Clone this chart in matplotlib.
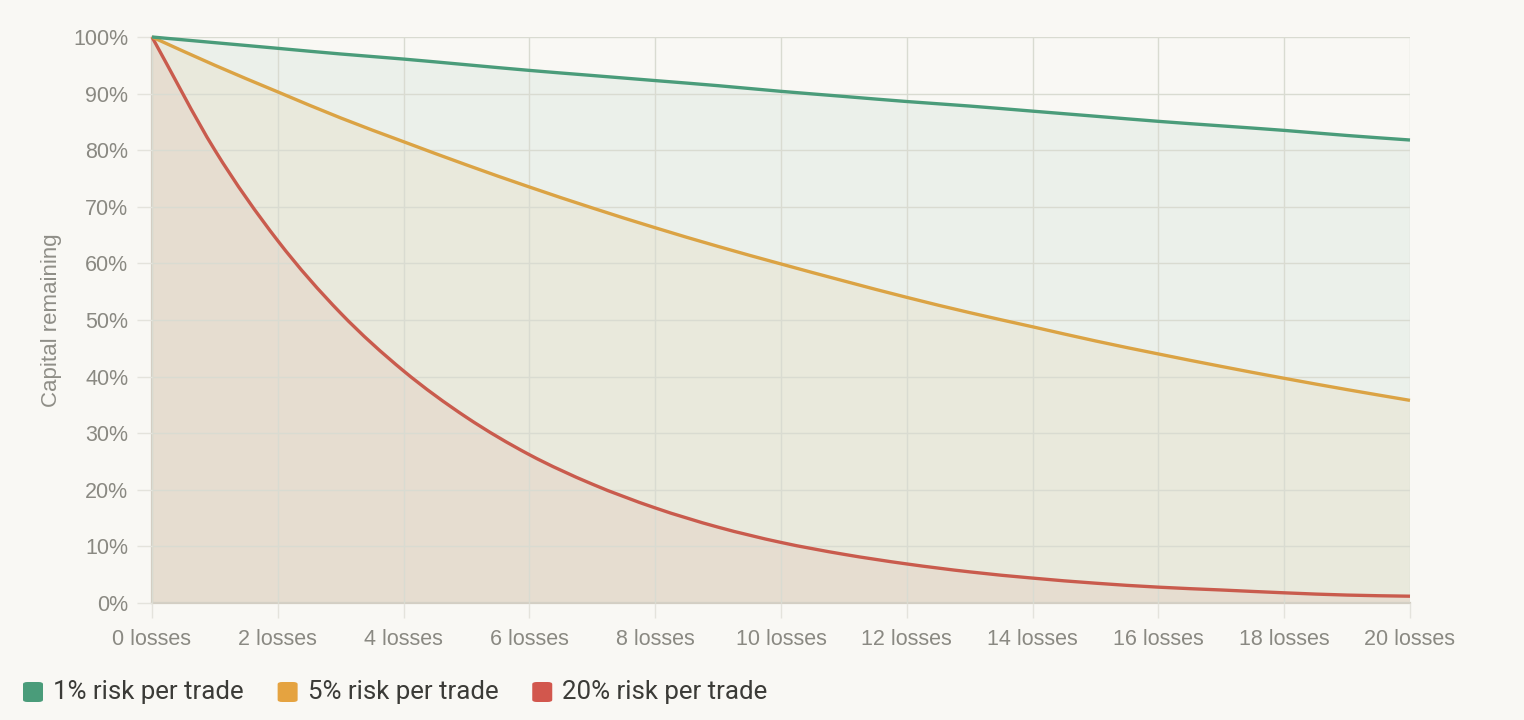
import matplotlib
matplotlib.use("Agg")
import matplotlib.pyplot as plt
from matplotlib.patches import FancyBboxPatch, PathPatch
from matplotlib.path import Path
from matplotlib.ticker import FuncFormatter

# capital remaining (%) after n consecutive losses
losses = list(range(0, 21))
risk_1 = [100, 99, 98, 97, 96.1, 95.1, 94.1, 93.2, 92.3, 91.4, 90.4,
          89.5, 88.6, 87.8, 86.9, 86.0, 85.1, 84.3, 83.5, 82.6, 81.8]
risk_5 = [100, 95, 90.3, 85.7, 81.5, 77.4, 73.5, 69.8, 66.3, 63.0, 59.9,
          56.9, 54.0, 51.3, 48.8, 46.3, 44.0, 41.8, 39.7, 37.7, 35.8]
risk_20 = [100, 80, 64, 51.2, 41.0, 32.8, 26.2, 21.0, 16.8, 13.4, 10.7,
           8.6, 6.9, 5.5, 4.4, 3.5, 2.8, 2.3, 1.8, 1.4, 1.2]
series_names = ["1% risk per trade", "5% risk per trade", "20% risk per trade"]
line_colors = ["#4a9c7a", "#dba344", "#c95b4d"]
key_colors = ["#4a9c7a", "#e5a340", "#d2574d"]

bg = "#f9f8f4"
tick_col = "#8a8982"


def smooth_path(xs, ys):
    # monotone cubic (Fritsch-Carlson) drawn as bezier segments
    n = len(xs)
    d = [(ys[i + 1] - ys[i]) / (xs[i + 1] - xs[i]) for i in range(n - 1)]
    m = [d[0]] + [0.0] * (n - 2) + [d[-1]]
    for i in range(1, n - 1):
        if d[i - 1] * d[i] <= 0:
            m[i] = 0.0
        else:
            m[i] = (d[i - 1] + d[i]) / 2
    verts = [(xs[0], ys[0])]
    codes = [Path.MOVETO]
    for i in range(n - 1):
        h = xs[i + 1] - xs[i]
        verts += [(xs[i] + h / 3, ys[i] + m[i] * h / 3),
                  (xs[i + 1] - h / 3, ys[i + 1] - m[i + 1] * h / 3),
                  (xs[i + 1], ys[i + 1])]
        codes += [Path.CURVE4] * 3
    return verts, codes


fig = plt.figure(figsize=(15.24, 7.2), dpi=100, facecolor=bg)
ax = fig.add_axes([152 / 1524, 1 - 603 / 720, (1410 - 152) / 1524, (603 - 37) / 720])
ax.set_facecolor(bg)

all_series = [risk_1, risk_5, risk_20]
for vals, c in zip(all_series, line_colors):
    verts, codes = smooth_path(losses, vals)
    verts = verts + [(losses[-1], 0), (losses[0], 0), verts[0]]
    codes = codes + [Path.LINETO, Path.LINETO, Path.CLOSEPOLY]
    ax.add_patch(PathPatch(Path(verts, codes), facecolor=c, alpha=0.08,
                           edgecolor="none", zorder=1))
for vals, c in reversed(list(zip(all_series, line_colors))):
    verts, codes = smooth_path(losses, vals)
    ax.add_patch(PathPatch(Path(verts, codes), facecolor="none", edgecolor=c,
                           lw=2.4, zorder=3, clip_on=False, capstyle="butt"))

ax.set_xlim(0, 20)
ax.set_ylim(0, 100)
ax.set_xticks(range(0, 21, 2))
ax.set_yticks(range(0, 101, 10))
ax.xaxis.set_major_formatter(FuncFormatter(lambda v, p: f"{int(v)} losses"))
ax.yaxis.set_major_formatter(FuncFormatter(lambda v, p: f"{int(v)}%"))
ax.grid(True, color="#d9dbd1", lw=1, zorder=2)
ax.set_axisbelow(False)

for s in ["top", "right"]:
    ax.spines[s].set_visible(False)
for s in ["left", "bottom"]:
    ax.spines[s].set_color("#d3cec3")
    ax.spines[s].set_linewidth(1.6)
    ax.spines[s].set_zorder(2.5)

ax.tick_params(axis="both", length=11, width=1, color="#e4e3dc",
               labelcolor=tick_col, labelsize=15.5)
ax.tick_params(axis="x", pad=8)
ax.tick_params(axis="y", pad=6)
for lab in ax.get_xticklabels() + ax.get_yticklabels():
    lab.set_fontfamily("Liberation Sans")

ax.set_ylabel("Capital remaining", color="#8f8e87", fontsize=16,
              fontfamily="Liberation Sans", labelpad=8)

# legend row at the bottom
fig.canvas.draw()
renderer = fig.canvas.get_renderer()
x = 23
y_mid = 692
for name, c in zip(series_names, key_colors):
    box = FancyBboxPatch((x / 1524, (720 - y_mid - 10) / 720), 20 / 1524, 20 / 720,
                         boxstyle="round,pad=0,rounding_size=0.003",
                         transform=fig.transFigure, facecolor=c, edgecolor="none")
    fig.patches.append(box)
    t = fig.text((x + 30) / 1524, (720 - y_mid) / 720, name, color="#3b3b37",
                 fontsize=18.6, fontfamily="Roboto", va="center", ha="left")
    w = t.get_window_extent(renderer).width
    x = x + 30 + w + 34

fig.savefig("out.png", dpi=100, facecolor=bg)
